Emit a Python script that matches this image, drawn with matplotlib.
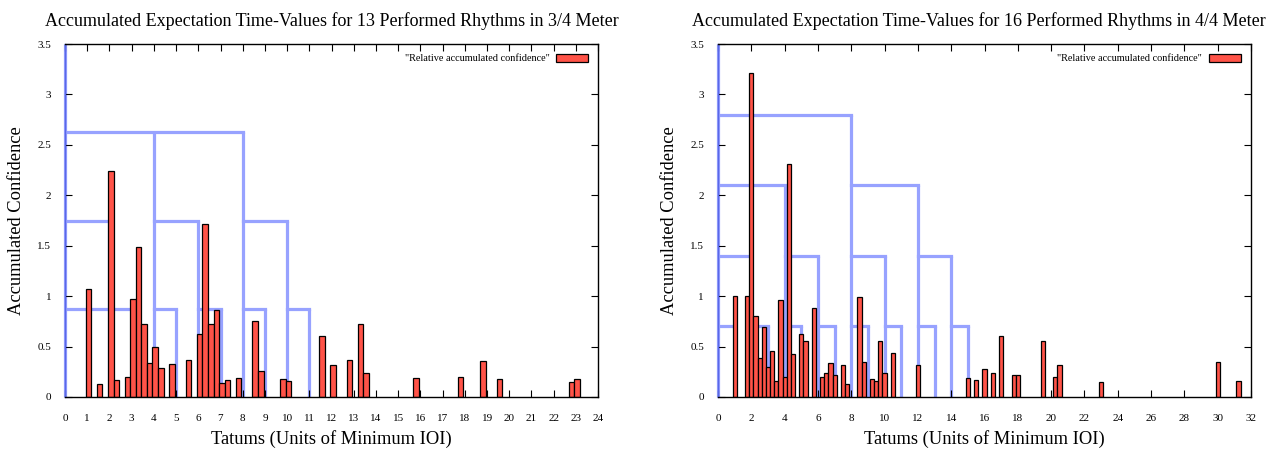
import matplotlib
matplotlib.use("Agg")
import matplotlib.pyplot as plt
from matplotlib.patches import Patch

plt.rcParams["font.family"] = ["Liberation Serif", "DejaVu Serif"]

# --- 3/4 meter: bar positions (tatums) and accumulated confidence ---
x34 = [1.06, 1.56, 2.06, 2.31, 2.81, 3.06, 3.31, 3.56, 3.81, 4.06, 4.31, 4.81,
       5.56, 6.06, 6.31, 6.56, 6.81, 7.06, 7.31, 7.81, 8.56, 8.81, 9.81, 10.06,
       11.56, 12.06, 12.81, 13.31, 13.56, 15.81, 17.81, 18.81, 19.56, 22.81, 23.06]
y34 = [1.07, 0.125, 2.24, 0.17, 0.2, 0.975, 1.49, 0.72, 0.34, 0.495, 0.285, 0.33,
       0.37, 0.62, 1.715, 0.725, 0.865, 0.14, 0.165, 0.19, 0.75, 0.255, 0.18, 0.16,
       0.6, 0.32, 0.37, 0.725, 0.24, 0.19, 0.2, 0.355, 0.18, 0.15, 0.175]

# metrical hierarchy for 3/4: (level, start, end) horizontals and (x, level) verticals
h34 = [(2.625, 0, 8), (1.75, 0, 2), (1.75, 4, 6), (1.75, 8, 10),
       (0.875, 0, 3), (0.875, 4, 5), (0.875, 6, 7), (0.875, 8, 9), (0.875, 10, 11)]
v34 = [(0, 3.5), (4, 2.625), (8, 2.625), (2, 1.75), (6, 1.75), (10, 1.75),
       (1, 0.875), (3, 0.875), (5, 0.875), (7, 0.875), (9, 0.875), (11, 0.875)]

# --- 4/4 meter ---
x44 = [1.0, 1.75, 2.0, 2.25, 2.5, 2.75, 3.0, 3.25, 3.5, 3.75, 4.0, 4.25, 4.5,
       5.0, 5.25, 5.75, 6.25, 6.5, 6.75, 7.0, 7.5, 7.75, 8.5, 8.75, 9.25, 9.5,
       9.75, 10.0, 10.5, 12.0, 15.0, 15.5, 16.0, 16.5, 17.0, 17.75, 18.0, 19.5,
       20.25, 20.5, 23.0, 30.0, 31.25]
y44 = [1.0, 1.0, 3.21, 0.8, 0.39, 0.69, 0.3, 0.46, 0.16, 0.96, 0.2, 2.31, 0.43,
       0.62, 0.56, 0.88, 0.2, 0.24, 0.34, 0.215, 0.315, 0.125, 0.995, 0.345, 0.175,
       0.16, 0.555, 0.24, 0.435, 0.32, 0.19, 0.165, 0.28, 0.235, 0.6, 0.215, 0.22,
       0.56, 0.195, 0.32, 0.15, 0.35, 0.16]

h44 = [(2.8, 0, 8), (2.1, 0, 4), (2.1, 8, 12),
       (1.4, 0, 2), (1.4, 4, 6), (1.4, 8, 10), (1.4, 12, 14),
       (0.7, 0, 1), (0.7, 2, 3), (0.7, 4, 5), (0.7, 6, 7), (0.7, 8, 9),
       (0.7, 10, 11), (0.7, 12, 13), (0.7, 14, 15)]
v44 = [(0, 3.5), (8, 2.8), (4, 2.1), (12, 2.1), (2, 1.4), (6, 1.4), (10, 1.4),
       (14, 1.4), (1, 0.7), (3, 0.7), (5, 0.7), (7, 0.7), (9, 0.7), (11, 0.7),
       (13, 0.7), (15, 0.7)]

BAR = "#ff5348"
TREE = "#97a2ff"


def draw_panel(ax, xs, ys, hsegs, vsegs, xmax, xstep, title, title_x=0.5):
    for level, x0, x1 in hsegs:
        ax.plot([x0, x1], [level, level], color=TREE, lw=2.3, zorder=1,
                solid_capstyle="projecting")
    for xv, top in vsegs:
        ax.plot([xv, xv], [0, top], color=TREE, lw=2.3, zorder=1,
                solid_capstyle="butt", clip_on=False)
    ax.bar(xs, ys, width=0.25, color=BAR, edgecolor="black", linewidth=0.9,
           zorder=2)

    ax.set_xlim(0, xmax)
    ax.set_ylim(0, 3.5)
    ax.set_xticks(range(0, xmax + 1, xstep))
    ax.set_yticks([0, 0.5, 1, 1.5, 2, 2.5, 3, 3.5])
    ax.set_yticklabels(["0", "0.5", "1", "1.5", "2", "2.5", "3", "3.5"])
    ax.tick_params(axis="both", direction="in", length=5, width=0.8,
                   labelsize=8, top=True, right=True)
    ax.tick_params(axis="x", pad=12)
    ax.tick_params(axis="y", pad=10)
    for sp in ax.spines.values():
        sp.set_linewidth(1.0)
    ax.spines["left"].set_color("#5a68e8")

    ax.set_title(title, fontsize=13.0, pad=13, x=title_x)
    ax.set_xlabel("Tatums (Units of Minimum IOI)", fontsize=13.3, labelpad=5)
    ax.set_ylabel("Accumulated Confidence", fontsize=13.3, labelpad=9)

    handle = Patch(facecolor=BAR, edgecolor="black", linewidth=0.9)
    ax.legend([handle], ['"Relative accumulated confidence"'], loc="upper right",
              frameon=False, fontsize=7.4, markerfirst=False, handlelength=3.1,
              handleheight=0.8, borderaxespad=0.55, handletextpad=0.7)


fig = plt.figure(figsize=(12.78, 4.5), dpi=100)
ax1 = fig.add_axes([0.0509, 0.1178, 0.4171, 0.7844])
ax2 = fig.add_axes([0.5618, 0.1178, 0.4171, 0.7844])

draw_panel(ax1, x34, y34, h34, v34, 24, 1,
           "Accumulated Expectation Time-Values for 13 Performed Rhythms in 3/4 Meter")
draw_panel(ax2, x44, y44, h44, v44, 32, 2,
           "Accumulated Expectation Time-Values for 16 Performed Rhythms in 4/4 Meter",
           title_x=0.49)

fig.savefig("out.png", dpi=100)
